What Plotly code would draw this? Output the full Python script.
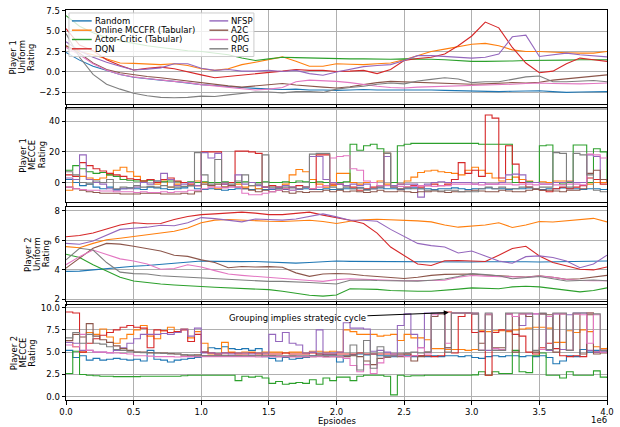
import plotly.graph_objects as go

# ---------------- data ----------------
EPISODES_COARSE = [i * 100000 for i in range(41)]
EPISODES_FINE = [i * 50000 for i in range(81)]

SERIES = ["Random", "Online MCCFR (Tabular)", "Actor-Critic (Tabular)", "DQN",
          "NFSP", "A2C", "QPG", "RPG"]
COLORS = ["#1f77b4", "#ff7f0e", "#2ca02c", "#d62728",
          "#9467bd", "#8c564b", "#e377c2", "#7f7f7f"]

X_TICK_VALUES = [0, 500000, 1000000, 1500000, 2000000, 2500000, 3000000, 3500000, 4000000]
X_TICK_LABELS = ["0.0", "0.5", "1.0", "1.5", "2.0", "2.5", "3.0", "3.5", "4.0"]

# Panel 1: Player 1 uniform rating
p1_random = [2.4, 1.45, 0.7, 0.2, -0.3, -0.65, -0.85, -1.0, -1.15, -1.35, -1.55, -1.65, -1.8, -1.9, -2.0, -2.1, -2.15, -2.1, -2.2, -2.2, -2.25, -2.2, -2.15, -2.2, -2.2, -2.2, -2.15, -2.2, -2.25, -2.3, -2.3, -2.35, -2.4, -2.35, -2.3, -2.3, -2.4, -2.5, -2.45, -2.4, -2.4]
p1_mccfr = [3.2, 2.5, 2.1, 1.6, 1.1, 1.05, 1.0, 0.9, 1.0, 0.8, 0.4, 0.2, 0.4, 0.9, 1.2, 1.5, 1.85, 1.3, 0.7, 0.7, 1.0, 0.95, 0.9, 1.0, 1.1, 1.5, 2.0, 2.5, 2.8, 3.1, 3.4, 3.5, 3.2, 2.7, 2.5, 2.5, 2.4, 2.35, 2.3, 2.3, 2.5]
p1_ac = [6.9, 5.6, 4.8, 4.2, 3.8, 3.5, 3.2, 3.0, 2.8, 2.6, 2.5, 2.3, 2.1, 1.7, 1.4, 1.6, 1.8, 1.75, 1.7, 1.65, 1.65, 1.6, 1.6, 1.55, 1.55, 1.6, 1.6, 1.55, 1.5, 1.4, 1.3, 1.3, 1.3, 1.35, 1.4, 1.4, 1.45, 1.45, 1.5, 1.5, 1.5]
p1_dqn = [5.3, 3.3, 2.6, 1.5, 0.8, 0.25, 0.45, 0.6, 0.4, 0.0, -0.35, -0.7, -0.55, -0.4, -0.2, -0.1, 0.1, 0.3, 0.2, 0.2, 0.05, 0.1, 0.2, -0.2, 0.3, 1.4, 1.65, 1.8, 2.2, 3.2, 4.4, 6.1, 5.4, 3.0, 1.1, -0.1, 0.1, 1.0, 1.7, 1.5, 1.3]
p1_nfsp = [3.7, 2.6, 1.8, 1.2, 0.7, 0.25, 0.35, 0.5, 1.0, 1.0, 0.45, 0.2, 0.3, 0.1, 0.1, 0.2, 0.05, 0.2, -0.2, -0.4, 0.0, 0.3, 0.65, 0.8, 0.9, 1.4, 2.0, 2.0, 1.9, 1.85, 1.7, 1.8, 2.2, 4.3, 4.5, 1.9, 2.1, 2.3, 2.1, 2.0, 1.85]
p1_a2c = [3.2, 2.3, 1.1, 0.3, -0.1, -0.35, -0.55, -0.7, -0.9, -1.1, -1.35, -1.5, -1.7, -1.85, -1.7, -1.5, -1.4, -1.6, -1.75, -1.85, -1.95, -1.8, -1.55, -1.3, -1.15, -1.2, -1.25, -1.3, -1.35, -1.45, -1.5, -1.45, -1.35, -1.3, -1.35, -1.25, -1.0, -0.85, -0.7, -0.5, -0.35]
p1_qpg = [3.0, 2.1, 1.0, 0.2, -0.3, -0.6, -0.8, -1.0, -1.15, -1.3, -1.55, -1.7, -1.9, -2.05, -2.2, -2.1, -1.9, -1.2, -1.0, -1.05, -1.15, -1.3, -1.55, -1.75, -1.9, -1.95, -1.85, -1.8, -1.75, -1.7, -1.7, -1.65, -1.6, -1.5, -1.4, -1.35, -1.4, -1.45, -1.45, -1.4, -1.35]
p1_rpg = [4.7, 1.8, -0.3, -1.5, -2.1, -2.6, -2.9, -3.1, -3.15, -3.1, -2.95, -3.0, -2.8, -2.6, -2.45, -2.45, -2.55, -2.4, -2.4, -2.5, -2.1, -1.9, -1.75, -1.5, -1.35, -1.45, -1.1, -0.9, -0.7, -0.85, -1.3, -1.2, -1.2, -0.9, -0.6, -0.5, -1.2, -1.2, -1.15, -1.05, -1.2]

# Panel 2: Player 1 MECCE rating
p2_random = [2, 0, -2, -1, -3, -4, -3, -4.5, -4, -3.5,
             -4, -4.5, -3, -3.5, -4, -4.5, -4, -3.5, -2, -4,
             -4.5, -4, -4.5, -5, -4.5, -4, -4, -4.5, -4, -4.5,
             -4.5, -4, -4.5, -5, -4.5, -4, -4.5, -4.5, -4, -4.5,
             -4.5, -4, -4, -3.5, -4.5, -4, -3.5, -4, -4, -4.5,
             -4, -3.5, -4, -4, -4.5, -4, -4, -3.5, -4, -4.5,
             -4, -4, -3.5, -4, -4, -4.5, -4, -4, -3.5, -4,
             -4.5, -4, -4, -3.5, -4, -4, -4.5, -4, -4, -4.5,
             -4]
p2_mccfr = [-5, 2, 4, 3, 2, 3, 5, 8, 10, 7,
            4, 1, 2, -1, 1, -3, -1, 0, -2, 1,
            0, -2, -4, -3, -2, -1, -3, -2, -4, -3,
            -2, -3, -1, 5, 8.5, 7, 2, -1, -3, -2,
            6, 6, 0, -1, 0, 0, 1, -1, 0, -1,
            1, 3.5, 6.5, 7.5, 8, 7, 6.5, 6, 5, 8,
            10, 8, 6, 3, 1, 2, 3.5, 2, 1, 0,
            0.5, 0, 1, 1, 1, 0, 0, -1, 0, 0,
            1]
p2_ac = [8, 11, 9, 7, 6, 6.5, 5, 4, 2, 1.5,
         1, 1, 1.5, 1, 0.5, 1, 0.5, 0, 0.5, 0,
         0.5, 0, 0, 0.5, 0, 0, 0.5, 0, 0, 0.5,
         0, 0, 0.5, 0, 1, 0.5, 0, 0.5, 0, 0,
         0, 0.5, 25, 21, 24, 25, 22, 19, 0, 24,
         25, 25.5, 25.5, 25.5, 25.5, 25.5, 25.5, 25.5, 25.5, 25.5,
         25.5, 25, 25, 25, 25, 25, 0, 0, 0.5, 0,
         24, 24.5, 0, -1, 0, 24.5, 24.5, 0, 22, 20,
         1]
p2_dqn = [5, 4, 13, 11, 9, 7.5, 6, 5, 4, 2.5,
          2, 1, 2, 0, 2, 3, 1, 0, -1, -2,
          20, 20, 20, -1, 0, 20.5, 20.5, 20, 19, -3,
          -2, -3, -4, -3, -2, -3, -4, 18, 18, -1,
          -1, -2, -3, -5, -4, -3, -2, 19, -3, -4,
          -3, -2, -3, -2, -1, -2, -1, 2, 13, 6,
          8, 4, 44, 42, 3, 24, 12, 0, -3, -4,
          -5, -6, -4, -3, -4, -3, -2, 3, 2, -1,
          -1]
p2_nfsp = [3, 2, 18, 2, 0, -1, -4, -5, -4, -4,
           -3, 0, -1, 1, 6, 2, -2, -1, 0, -2,
           19.5, 16, 19, -1, -2, 5, -1, 0, -2, -3,
           -4, -3, -2, -3, -4, -3, 17, 17, 2, 0,
           -1, -2, -1, -2, -1, -4, -3, 17, -2, -1,
           -1, -1, -9.5, -1, 0, 0.5, 0, 0, 0, 0,
           -1, 0, -1, -1, 0, 5, 5.5, 5, 0, 0,
           -1, -1, 0, 0, 0.5, 0, 0, 18, 17, 2,
           1]
p2_a2c = [-3, -4, -5, -6, -6.5, -7, -7, -7, -7.5, -7.5,
          -7.5, -7, -7, -7, -7.5, -7.5, -7.5, -7, -7.5, -6,
          -1, -2, -1, -3, -2, -3, -4, -5, -6, -5,
          -6, -5, -6, -7, -6, -6.5, -6, -6, -5, -6,
          -5, -6, -5.5, -6, -6.5, -6, -5, -6, -6, -5.5,
          -6, -6.5, -6, -6, -5.5, -6, -6.5, -6, -6, -5.5,
          -5, -5.5, -6, -6, -5, -5.5, -6, -6, -5, -4.5,
          -5, -5, -5.5, -6, -5, -5, -4, 6, 8, 2,
          0]
p2_qpg = [-3, -4, -4.5, -5, -5, -5.5, -5.5, -6, -6, -6,
          -6.5, -6, -6.5, -6.5, -6, -6.5, -6, -6, -5, -5,
          -4, -3, -3, -3.5, -3, -3, -7, -8, -8, -7,
          -6, -5, -4, -5, -4, -3, -4, -3, -2, 16,
          17, 17.5, 9, 8, 1, 0, -2, -2, -3, -2.5,
          -3, -2.5, -2, -2, -2.5, -2, -2, -1, -1, -1,
          -1, -1.5, -1, -1, -1, -1, -1.5, -1, -1, -1.5,
          -1, -1, -1.5, -1.5, -1, -1, -1.5, 18.5, 18, 16,
          17]
p2_rpg = [7, 5, 0, -1, 1, 0, 2, -4, -3, -3.5,
          -2, -3, -2.5, -3, -2, -3, -3, -2.5, -2, 19.5,
          5, -1, 15, 0, -1, 1, 5, -2, -1, 18,
          -3, -4, -3, -3.5, -4, -3, 18.5, 19, 19, -3,
          -4, -3, -4, -3.5, -5, -4, -3, 19, -3, -4,
          -3.5, -4, -4, -5, -5, -5.5, -5, -5, -6, -6,
          -6, -4, -3, -4, -3, -4, -4, -3, -3, -4,
          -3, -3, 19.5, 19, -3, 19, 18, 5, -5, -6,
          -6]

# Panel 3: Player 2 uniform rating
p3_random = [3.9, 3.92, 4.0, 4.1, 4.2, 4.25, 4.3, 4.38, 4.45, 4.55, 4.6, 4.58, 4.55, 4.56, 4.57, 4.55, 4.5, 4.46, 4.5, 4.56, 4.6, 4.58, 4.57, 4.56, 4.58, 4.57, 4.56, 4.55, 4.56, 4.55, 4.54, 4.55, 4.56, 4.55, 4.55, 4.54, 4.55, 4.56, 4.57, 4.58, 4.6]
p3_mccfr = [5.58, 5.5, 5.8, 6.05, 6.15, 6.25, 6.38, 6.5, 6.62, 6.85, 7.2, 7.38, 7.42, 7.37, 7.33, 7.3, 7.28, 7.35, 7.37, 7.28, 7.15, 7.3, 7.4, 7.44, 7.42, 7.38, 7.33, 7.26, 7.05, 6.9, 6.95, 7.05, 7.2, 6.88, 7.05, 7.28, 7.25, 7.35, 7.45, 7.5, 7.26]
p3_ac = [5.06, 4.84, 4.35, 3.9, 3.5, 3.25, 3.14, 3.04, 2.98, 2.9, 2.87, 2.82, 2.78, 2.74, 2.7, 2.66, 2.55, 2.4, 2.28, 2.22, 2.3, 2.72, 2.7, 2.68, 2.6, 2.55, 2.55, 2.55, 2.6, 2.7, 2.78, 2.75, 2.72, 2.85, 2.89, 2.85, 2.75, 2.6, 2.51, 2.6, 2.78]
p3_dqn = [6.25, 6.33, 6.5, 6.78, 7.05, 7.2, 7.13, 7.15, 7.42, 7.62, 7.75, 7.8, 7.85, 7.92, 7.85, 7.75, 7.75, 7.85, 7.92, 7.72, 7.55, 7.37, 7.15, 6.5, 5.55, 4.95, 4.4, 4.3, 4.62, 4.64, 4.62, 4.57, 5.0, 5.45, 5.6, 4.95, 4.5, 4.25, 4.05, 4.0, 4.2]
p3_nfsp = [5.8, 5.74, 5.96, 6.35, 6.75, 6.83, 6.9, 7.03, 7.0, 7.2, 7.55, 7.48, 7.35, 7.26, 7.45, 7.42, 7.38, 7.45, 7.6, 7.8, 7.6, 7.37, 7.37, 7.3, 6.75, 6.3, 5.8, 5.65, 5.55, 5.15, 5.28, 4.95, 4.6, 4.45, 4.9, 4.95, 4.84, 4.6, 4.15, 4.4, 5.0]
p3_a2c = [4.12, 4.8, 5.47, 5.8, 5.75, 5.6, 5.42, 5.28, 5.0, 4.92, 4.68, 4.5, 4.15, 4.23, 4.2, 4.22, 4.18, 3.8, 3.56, 3.72, 3.76, 3.72, 3.62, 3.56, 3.45, 3.42, 3.5, 3.63, 3.7, 3.72, 3.72, 3.65, 3.58, 3.55, 3.52, 3.6, 3.5, 3.36, 3.4, 3.5, 3.63]
p3_qpg = [4.35, 4.9, 5.35, 5.05, 4.75, 4.6, 4.4, 4.05, 4.1, 4.35, 4.2, 3.95, 3.72, 3.63, 3.55, 3.5, 3.4, 3.33, 3.28, 3.22, 3.34, 3.4, 3.38, 3.36, 3.3, 3.27, 3.27, 3.28, 3.3, 3.5, 3.62, 3.58, 3.56, 3.52, 3.5, 3.58, 3.5, 3.35, 3.28, 3.27, 3.27]
p3_rpg = [4.68, 5.47, 5.35, 4.5, 3.85, 3.75, 3.72, 3.6, 3.55, 3.5, 3.45, 3.38, 3.34, 3.3, 3.25, 3.22, 3.22, 3.2, 3.15, 3.1, 3.04, 3.3, 3.32, 3.28, 3.25, 3.23, 3.24, 3.3, 3.38, 3.55, 3.75, 3.68, 3.6, 3.4, 3.45, 3.55, 3.4, 3.25, 3.28, 3.32, 3.27]

# Panel 4: Player 2 MECCE rating
p4_random = [5.2, 4.4, 4.6, 4.1, 4.3, 4.1, 4.2, 4.3, 4.2, 4.1,
             4.2, 4.0, 5.2, 4.2, 4.1, 3.9, 4.1, 4.2, 4.3, 4.4,
             5.0, 5.5, 5.4, 5.6, 5.4, 5.3, 5.4, 5.2, 5.4, 4.5,
             4.3, 4.0, 4.4, 4.2, 4.3, 4.4, 4.6, 4.8, 4.7, 4.7,
             3.9, 4.6, 4.7, 4.8, 4.7, 4.8, 4.6, 4.6, 4.5, 4.6,
             4.6, 4.5, 4.6, 4.5, 4.6, 4.5, 4.6, 4.6, 4.5, 4.6,
             4.4, 4.3, 4.5, 4.6, 4.5, 4.6, 4.6, 4.5, 4.6, 4.5,
             4.6, 4.4, 3.7, 4.0, 4.6, 4.5, 5.3, 5.0, 5.2, 5.1,
             5.2]
p4_mccfr = [6.1, 5.6, 5.0, 7.2, 7.0, 7.6, 6.7, 6.0, 6.5, 7.0,
            7.5, 8.0, 6.8, 6.5, 7.4, 7.8, 7.2, 7.6, 6.6, 7.3,
            6.0, 4.8, 4.8, 6.1, 5.0, 4.9, 5.0, 5.0, 4.9, 5.0,
            5.0, 5.0, 4.9, 5.0, 5.0, 4.9, 5.1, 5.1, 5.0, 5.1,
            5.0, 7.5, 7.3, 7.0, 7.0, 7.0, 6.8, 6.9, 7.0, 6.3,
            7.0, 6.6, 6.6, 6.4, 5.4, 5.4, 5.3, 5.3, 5.3, 5.2,
            5.3, 7.4, 7.3, 7.4, 7.4, 7.3, 7.5, 7.6, 7.7, 7.8,
            7.8, 7.7, 6.1, 6.1, 7.4, 7.2, 7.5, 7.3, 5.6, 5.4,
            5.5]
p4_ac = [2.6, 5.1, 2.5, 2.4, 2.35, 2.3, 2.3, 2.25, 2.25, 2.25,
         2.25, 2.3, 2.3, 2.3, 2.3, 2.3, 2.3, 2.35, 2.4, 2.4,
         2.4, 2.4, 2.4, 2.4, 2.4, 1.8, 2.3, 2.2, 2.3, 2.1,
         1.5, 1.7, 1.4, 1.5, 1.6, 1.5, 1.9, 1.4, 2.1, 1.8,
         2.2, 2.2, 1.8, 2.3, 2.4, 2.4, 2.4, 2.3, 0.2, 2.4,
         2.3, 2.35, 2.35, 2.4, 2.4, 2.4, 2.4, 2.4, 2.4, 2.4,
         2.45, 2.8, 2.4, 2.8, 2.6, 2.6, 5.2, 2.8, 2.7, 4.6,
         4.9, 2.4, 2.4, 2.1, 2.8, 2.4, 2.4, 2.4, 2.9, 2.2,
         2.1]
p4_dqn = [9.5, 9.4, 5.0, 6.0, 6.5, 6.9, 7.2, 7.5, 7.8, 8.0,
          7.8, 7.7, 5.5, 7.5, 7.4, 7.2, 7.3, 7.5, 6.2, 7.0,
          5.0, 4.9, 4.8, 4.9, 4.9, 4.8, 4.8, 4.9, 4.8, 4.8,
          4.8, 4.8, 4.9, 4.8, 4.8, 4.8, 4.9, 4.8, 4.8, 4.8,
          4.8, 4.8, 4.8, 4.9, 4.8, 4.8, 4.8, 4.8, 4.8, 4.8,
          4.8, 4.6, 4.6, 4.6, 4.5, 4.6, 9.5, 4.9, 9.0, 9.4,
          7.2, 7.3, 2.4, 7.2, 7.5, 7.4, 7.0, 6.8, 5.0, 4.8,
          5.5, 6.0, 5.4, 4.6, 4.5, 4.6, 4.5, 9.4, 5.0, 5.2,
          5.0]
p4_nfsp = [6.1, 6.0, 5.2, 5.2, 5.0, 5.0, 4.9, 5.2, 5.5, 6.0,
           6.5, 7.0, 7.0, 7.0, 7.1, 7.0, 7.2, 7.6, 6.8, 7.7,
           4.9, 4.9, 4.8, 4.9, 4.8, 4.9, 4.9, 4.8, 4.9, 4.9,
           7.0, 6.2, 7.2, 6.0, 5.8, 4.9, 5.0, 7.5, 4.9, 4.9,
           5.0, 8.3, 7.7, 7.7, 7.6, 5.1, 5.2, 5.0, 4.8, 8.0,
           9.3, 7.0, 5.5, 9.4, 9.4, 9.4, 5.5, 9.4, 9.4, 9.4,
           9.3, 5.2, 5.2, 5.2, 5.2, 9.3, 9.0, 8.0, 9.3, 9.3,
           9.3, 5.2, 9.3, 5.3, 9.2, 9.4, 9.4, 5.2, 5.0, 5.2,
           5.0]
p4_a2c = [6.3, 7.0, 6.7, 8.2, 6.8, 6.4, 6.1, 5.7, 5.4, 5.2,
          5.0, 5.0, 4.95, 4.9, 4.9, 4.85, 4.8, 4.7, 4.6, 4.7,
          4.6, 4.6, 4.6, 4.65, 4.6, 4.6, 4.55, 4.6, 4.6, 4.55,
          4.6, 4.5, 4.5, 4.55, 4.5, 4.5, 4.5, 4.55, 4.5, 4.5,
          4.45, 4.5, 4.6, 4.5, 4.0, 3.6, 4.3, 4.4, 4.6, 4.5,
          4.8, 4.0, 4.5, 5.0, 9.0, 9.3, 5.5, 9.4, 9.4, 9.4,
          9.3, 6.0, 9.2, 5.5, 5.5, 9.3, 5.0, 9.3, 9.0, 5.0,
          9.3, 9.2, 5.0, 9.3, 5.2, 9.3, 4.8, 9.2, 4.8, 4.9,
          4.9]
p4_qpg = [5.8, 5.6, 7.0, 5.2, 5.0, 5.0, 4.95, 4.9, 4.85, 4.8,
          4.6, 4.6, 4.55, 4.5, 4.5, 4.5, 4.45, 4.5, 4.5, 4.5,
          4.5, 4.5, 4.5, 4.5, 4.5, 4.5, 4.5, 4.5, 4.45, 4.5,
          4.5, 4.5, 4.5, 4.45, 4.5, 4.5, 4.5, 4.5, 4.45, 4.5,
          4.5, 4.3, 3.5, 2.8, 3.6, 2.6, 3.8, 4.5, 4.6, 4.6,
          4.5, 4.6, 5.5, 4.8, 9.2, 9.4, 6.0, 9.4, 9.4, 9.4,
          9.4, 5.2, 9.3, 5.4, 5.3, 9.3, 9.0, 9.3, 9.3, 9.3,
          5.3, 9.0, 9.3, 9.3, 5.2, 9.3, 9.2, 6.0, 9.2, 5.0,
          4.9]
p4_rpg = [6.6, 7.2, 6.0, 7.0, 6.0, 5.9, 5.6, 5.3, 5.2, 5.1,
          5.0, 4.95, 4.9, 4.9, 4.85, 4.8, 4.8, 4.7, 4.7, 4.6,
          4.6, 4.6, 4.6, 4.6, 4.6, 4.6, 4.6, 4.6, 4.6, 4.6,
          4.6, 4.6, 4.6, 4.6, 4.6, 4.6, 4.6, 4.6, 4.6, 4.6,
          4.6, 4.6, 5.8, 3.0, 6.3, 3.2, 5.6, 4.5, 4.6, 4.8,
          4.9, 5.0, 4.9, 5.0, 9.4, 9.4, 5.0, 9.4, 9.4, 9.4,
          9.4, 5.2, 9.4, 5.2, 5.2, 9.4, 9.4, 9.4, 9.4, 5.2,
          9.4, 5.3, 9.4, 9.4, 5.2, 9.4, 9.4, 9.4, 9.3, 5.2,
          5.0]

Y_TITLES = [["Player 1", "Uniform", "Rating"],
            ["Player 1", "MECCE", "Rating"],
            ["Player 2", "Uniform", "Rating"],
            ["Player 2", "MECCE", "Rating"]]

ANNOTATION_TEXT = "Grouping implies strategic cycle"
X_LABEL = "Epsiodes"
X_OFFSET_TEXT = "1e6"

PANELS = [
    (EPISODES_COARSE, [p1_random, p1_mccfr, p1_ac, p1_dqn, p1_nfsp, p1_a2c, p1_qpg, p1_rpg], "linear"),
    (EPISODES_FINE, [p2_random, p2_mccfr, p2_ac, p2_dqn, p2_nfsp, p2_a2c, p2_qpg, p2_rpg], "hv"),
    (EPISODES_COARSE, [p3_random, p3_mccfr, p3_ac, p3_dqn, p3_nfsp, p3_a2c, p3_qpg, p3_rpg], "linear"),
    (EPISODES_FINE, [p4_random, p4_mccfr, p4_ac, p4_dqn, p4_nfsp, p4_a2c, p4_qpg, p4_rpg], "hv"),
]
for xs, ys_list, _ in PANELS:
    for ys in ys_list:
        assert len(ys) == len(xs), (len(ys), len(xs))

# ---------------- layout geometry (pixels) ----------------
W, H = 620, 427
ML, MR, MT, MB = 66, 7, 6, 27
PW = W - ML - MR
PH = H - MT - MB
PANEL_PX = [(6, 101), (104.5, 200), (205, 300), (304.5, 400)]  # top, bottom
Y_RANGES = [[-3.92, 7.58], [-12.7, 48.9], [1.89, 8.27], [-0.37, 10.24]]
Y_TICKS = [dict(tick0=0, dtick=2.5, tickformat=".1f"),
           dict(tick0=0, dtick=20),
           dict(tick0=0, dtick=2),
           dict(tick0=0, dtick=2.5, tickformat=".1f")]
TITLE_X_PX = [[12, 21.3, 30.6], [22.5, 31.8, 41.1], [27.5, 36.8, 46.1], [13, 22.3, 31.6]]


def px_to_paper_x(px):
    return (px - ML) / PW


def py_to_paper_y(py):
    return (H - MB - py) / PH


FONT = "DejaVu Sans"
FS = 8.5

fig = go.Figure()
for k, (xs, ys_list, shape) in enumerate(PANELS):
    xa = "x" if k == 0 else f"x{k + 1}"
    ya = "y" if k == 0 else f"y{k + 1}"
    for name, color, ys in zip(SERIES, COLORS, ys_list):
        fig.add_trace(go.Scatter(x=xs, y=ys, mode="lines", name=name,
                                 line=dict(color=color, width=1.1, shape=shape),
                                 showlegend=False, xaxis=xa, yaxis=ya,
                                 hoverinfo="skip"))

layout = dict(width=W, height=H, margin=dict(l=ML, r=MR, t=MT, b=MB),
              paper_bgcolor="white", plot_bgcolor="white", showlegend=False,
              font=dict(family=FONT, size=FS, color="black"))

for k in range(4):
    top, bot = PANEL_PX[k]
    xkey = "xaxis" if k == 0 else f"xaxis{k + 1}"
    ykey = "yaxis" if k == 0 else f"yaxis{k + 1}"
    yname = "y" if k == 0 else f"y{k + 1}"
    xa = dict(range=[0, 4000000], domain=[0, 1], anchor=yname,
              showgrid=True, gridcolor="#b0b0b0", gridwidth=1,
              tickmode="array", tickvals=X_TICK_VALUES, ticktext=X_TICK_LABELS,
              ticks="outside", ticklen=3.5, tickwidth=1, tickcolor="black",
              showline=True, linecolor="black", linewidth=1, mirror=True,
              zeroline=False, showticklabels=(k == 3),
              tickfont=dict(family=FONT, size=FS, color="black"))
    if k > 0:
        xa["matches"] = "x"
    layout[xkey] = xa
    ya = dict(range=Y_RANGES[k], domain=[py_to_paper_y(bot), py_to_paper_y(top)],
              anchor="x" if k == 0 else f"x{k + 1}",
              showgrid=True, gridcolor="#b0b0b0", gridwidth=1,
              ticks="outside", ticklen=3.5, tickwidth=1, tickcolor="black",
              showline=True, linecolor="black", linewidth=1, mirror=True,
              zeroline=False, tickfont=dict(family=FONT, size=FS, color="black"),
              **Y_TICKS[k])
    layout[ykey] = ya

fig.update_layout(**layout)

annotations = []
# y-axis titles (three stacked rotated lines)
for k in range(4):
    top, bot = PANEL_PX[k]
    yc = py_to_paper_y((top + bot) / 2)
    for line_text, pxx in zip(Y_TITLES[k], TITLE_X_PX[k]):
        annotations.append(dict(text=line_text, x=px_to_paper_x(pxx), y=yc,
                                xref="paper", yref="paper", showarrow=False,
                                textangle=-90, xanchor="center", yanchor="middle",
                                font=dict(family=FONT, size=FS, color="black")))

annotations.append(dict(text=X_LABEL, x=px_to_paper_x(340), y=py_to_paper_y(421),
                        xref="paper", yref="paper", showarrow=False,
                        xanchor="center", yanchor="middle",
                        font=dict(family=FONT, size=FS, color="black")))
annotations.append(dict(text=X_OFFSET_TEXT, x=px_to_paper_x(615), y=py_to_paper_y(420.5),
                        xref="paper", yref="paper", showarrow=False,
                        xanchor="right", yanchor="middle",
                        font=dict(family=FONT, size=FS, color="black")))

# arrow annotation in panel 4
annotations.append(dict(text=ANNOTATION_TEXT, x=2830000, y=9.44, xref="x4", yref="y4",
                        ax=1711000, ay=8.78, axref="x4", ayref="y4",
                        showarrow=True, arrowhead=2, arrowsize=1, arrowwidth=1,
                        arrowcolor="black", standoff=0,
                        font=dict(family=FONT, size=FS, color="black")))

shapes = []
# thick light band seen just under the top frame of panel 2
shapes.append(dict(type="line", xref="paper", yref="paper", x0=0, x1=1,
                   y0=py_to_paper_y(106), y1=py_to_paper_y(106),
                   line=dict(color="#b0b0b0", width=2), layer="below"))

# legend (drawn manually to match the compact matplotlib layout)
LEG_BOX = (69, 9, 256, 53)
shapes.append(dict(type="rect", xref="paper", yref="paper",
                   x0=px_to_paper_x(LEG_BOX[0]), x1=px_to_paper_x(LEG_BOX[2]),
                   y0=py_to_paper_y(LEG_BOX[3]), y1=py_to_paper_y(LEG_BOX[1]),
                   fillcolor="rgba(255,255,255,0.8)",
                   line=dict(color="#cccccc", width=1), layer="above"))
ROW_PY = [17, 26.4, 35.8, 45.2]
COL_LINE = [(72, 92), (211, 230)]
COL_TEXT = [94, 232]
for i, (name, color) in enumerate(zip(SERIES, COLORS)):
    col, row = divmod(i, 4)
    py = ROW_PY[row]
    shapes.append(dict(type="line", xref="paper", yref="paper",
                       x0=px_to_paper_x(COL_LINE[col][0]), x1=px_to_paper_x(COL_LINE[col][1]),
                       y0=py_to_paper_y(py), y1=py_to_paper_y(py),
                       line=dict(color=color, width=1.4), layer="above"))
    annotations.append(dict(text=name, x=px_to_paper_x(COL_TEXT[col]), y=py_to_paper_y(py),
                            xref="paper", yref="paper", showarrow=False,
                            xanchor="left", yanchor="middle", borderpad=0,
                            font=dict(family=FONT, size=FS, color="black")))

fig.update_layout(annotations=annotations, shapes=shapes)
fig.write_html("out.html", config={"displayModeBar": False},
               post_script="document.body.style.margin='0px';document.body.style.padding='0px';")
